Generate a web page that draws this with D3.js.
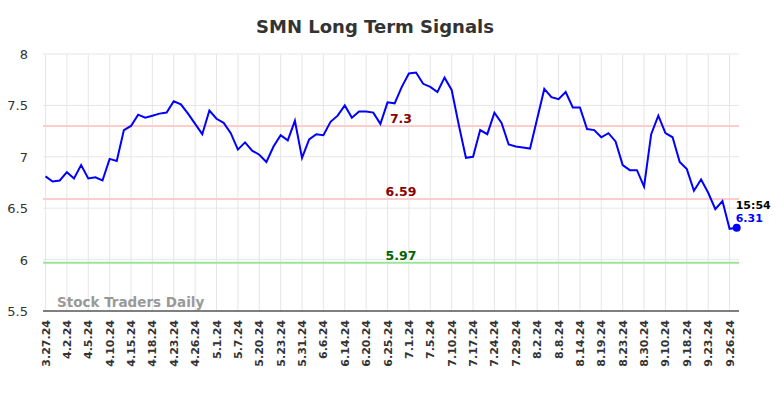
<!DOCTYPE html>
<html>
<head>
<meta charset="utf-8">
<script src="https://cdn.jsdelivr.net/npm/d3@7"></script>
<style>
  body { margin: 0; background: #fff; }
  svg { font-family: "DejaVu Sans", sans-serif; }
</style>
</head>
<body>
<svg id="chart" width="784" height="398"></svg>
<script>
// one tick label every 3 trading days
const tickLabels = ["3.27.24", "4.2.24", "4.5.24", "4.10.24", "4.15.24", "4.18.24", "4.23.24",
  "4.26.24", "5.1.24", "5.7.24", "5.20.24", "5.23.24", "5.31.24", "6.6.24", "6.14.24", "6.20.24",
  "6.25.24", "7.1.24", "7.5.24", "7.10.24", "7.17.24", "7.24.24", "7.29.24", "8.2.24", "8.8.24",
  "8.14.24", "8.19.24", "8.23.24", "8.30.24", "9.10.24", "9.18.24", "9.23.24", "9.26.24"];

const prices = [6.81, 6.76, 6.77, 6.85, 6.79, 6.92, 6.79, 6.80, 6.77, 6.98,
  6.96, 7.26, 7.30, 7.41, 7.38, 7.40, 7.42, 7.43, 7.54, 7.51,
  7.42, 7.32, 7.22, 7.45, 7.37, 7.33, 7.23, 7.07, 7.14, 7.06,
  7.02, 6.95, 7.10, 7.21, 7.16, 7.35, 6.99, 7.17, 7.22, 7.21,
  7.34, 7.40, 7.50, 7.38, 7.44, 7.44, 7.43, 7.32, 7.53, 7.52,
  7.68, 7.81, 7.82, 7.71, 7.68, 7.63, 7.77, 7.65, 7.31, 6.99,
  7.00, 7.26, 7.22, 7.43, 7.33, 7.12, 7.10, 7.09, 7.08, 7.37,
  7.66, 7.58, 7.56, 7.63, 7.48, 7.48, 7.27, 7.26, 7.19, 7.23,
  7.15, 6.92, 6.87, 6.87, 6.71, 7.22, 7.40, 7.23, 7.19, 6.95,
  6.88, 6.67, 6.78, 6.65, 6.49, 6.57, 6.30, 6.31];

const signals = [
  { value: 7.3, line: "#ffcccc", text: "#8b0000" },
  { value: 6.59, line: "#ffcccc", text: "#8b0000" },
  { value: 5.97, line: "#99e699", text: "#006400" }
];
const yTicks = [5.5, 6, 6.5, 7, 7.5, 8];
const lastTime = "15:54";

const svg = d3.select("#chart");
const plotLeft = 43, plotRight = 739, plotTop = 54, plotBottom = 311;

const x = d3.scaleLinear().domain([0, prices.length - 1]).range([45.5, 736.7]);
const y = d3.scaleLinear().domain([5.5, 8]).range([plotBottom, plotTop]);

svg.append("text")
  .attr("x", 375).attr("y", 33)
  .attr("text-anchor", "middle")
  .attr("font-size", 18).attr("font-weight", "bold")
  .attr("fill", "#333")
  .text("SMN Long Term Signals");

// grid
svg.append("g").selectAll("line")
  .data(yTicks.slice(1))
  .join("line")
  .attr("x1", plotLeft).attr("x2", plotRight)
  .attr("y1", d => y(d)).attr("y2", d => y(d))
  .attr("stroke", "#e6e6e6");

svg.append("g").selectAll("line")
  .data(tickLabels)
  .join("line")
  .attr("x1", (d, i) => x(i * 3)).attr("x2", (d, i) => x(i * 3))
  .attr("y1", plotTop).attr("y2", plotBottom)
  .attr("stroke", "#e6e6e6");

// y labels
svg.append("g").selectAll("text")
  .data(yTicks)
  .join("text")
  .attr("x", 28).attr("y", d => y(d) + 5)
  .attr("text-anchor", "end")
  .attr("font-size", 13)
  .attr("fill", "#333")
  .text(d => d);

// x labels
svg.append("g").selectAll("text")
  .data(tickLabels)
  .join("text")
  .attr("transform", (d, i) => `translate(${x(i * 3) + 4},320) rotate(-90)`)
  .attr("text-anchor", "end")
  .attr("font-size", 11).attr("font-weight", "bold")
  .attr("fill", "#333")
  .text(d => d);

svg.append("text")
  .attr("x", 57).attr("y", 307)
  .attr("font-size", 13.5).attr("font-weight", "bold")
  .attr("fill", "#999")
  .text("Stock Traders Daily");

// signal lines
signals.forEach(s => {
  svg.append("line")
    .attr("x1", plotLeft).attr("x2", plotRight)
    .attr("y1", y(s.value)).attr("y2", y(s.value))
    .attr("stroke", s.line).attr("stroke-width", 2);
  svg.append("text")
    .attr("x", 401).attr("y", y(s.value) - 3)
    .attr("text-anchor", "middle")
    .attr("font-size", 12.5).attr("font-weight", "bold")
    .attr("fill", s.text)
    .text(s.value);
});

svg.append("line")
  .attr("x1", plotLeft).attr("x2", plotRight)
  .attr("y1", plotBottom).attr("y2", plotBottom)
  .attr("stroke", "#555").attr("stroke-width", 1.5);

svg.append("path")
  .datum(prices)
  .attr("d", d3.line().x((d, i) => x(i)).y(d => y(d)))
  .attr("fill", "none")
  .attr("stroke", "#0000ff")
  .attr("stroke-width", 2);

const last = prices.length - 1;
svg.append("circle")
  .attr("cx", x(last)).attr("cy", y(prices[last]))
  .attr("r", 4).attr("fill", "#0000ff");

svg.append("text")
  .attr("x", x(last) - 1).attr("y", y(prices[last]) - 19)
  .attr("font-size", 11).attr("font-weight", "bold")
  .attr("fill", "#000")
  .text(lastTime);
svg.append("text")
  .attr("x", x(last) - 1).attr("y", y(prices[last]) - 6)
  .attr("font-size", 11).attr("font-weight", "bold")
  .attr("fill", "#0000ff")
  .text(prices[last]);
</script>
</body>
</html>
